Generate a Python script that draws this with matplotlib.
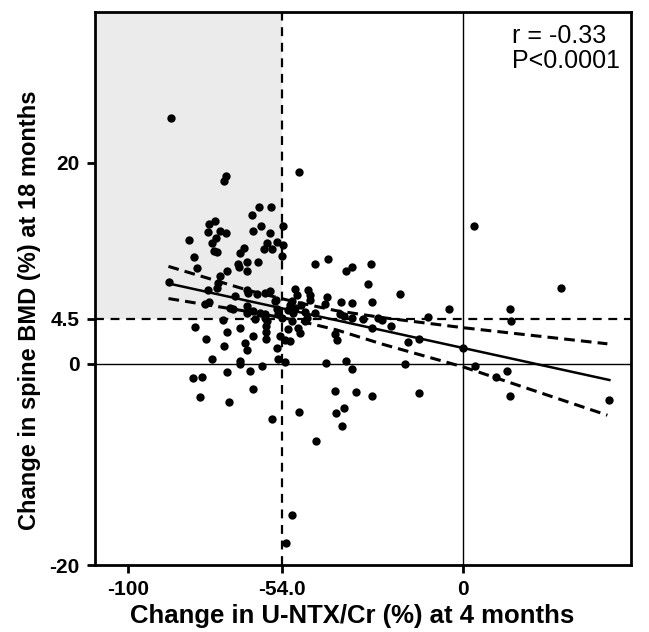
import numpy as np
import matplotlib
matplotlib.use("Agg")
import matplotlib.pyplot as plt

plt.rcParams['font.family'] = ['Liberation Sans', 'DejaVu Sans']

# change in U-NTX/Cr (%) at 4 months vs change in spine BMD (%) at 18 months
ntx = [-87.2, -70.7, -71.3, -49.0, -60.9, -57.3, -63.0, -74.0, -75.8, -60.3,
       -53.7, -76.1, -72.5, -70.7, -62.7, -57.6, -81.8, -73.7, -74.9, -58.5,
       -55.5, -53.7, -65.4, -66.6, -59.4, -57.0, -74.3, -73.4, -54.0, -80.3,
       -67.2, -66.9, -64.5, -61.2, -64.5, -79.4, -70.4, -72.5, -73.1, -73.4,
       -87.8, -76.1, -64.5, -64.2, -68.1, -61.5, -59.1, -57.6, -55.8, -75.8,
       -77.0, -69.6, -68.7, -64.5, -64.5, -62.7, -60.6, -59.1, -55.5, -55.2,
       -62.1, -59.1, -58.5, -71.6, -54.0, -56.1, -44.2, -40.3, -34.9, -33.1,
       -27.5, -28.4, -18.8, -50.1, -49.6, -46.3, -45.7, -45.7, -40.6, -41.2,
       -36.4, -33.1, -27.2, -51.0, -51.6, -48.4, -50.1, -52.2, -50.7, -47.2,
       -46.6, -47.2, -44.2, -36.7, -35.5, -33.1, -29.9, -25.4, -24.2, -21.5,
       -27.2, -52.2, -49.3, -48.7, -38.2, -37.6, -54.6, -53.1, -51.6, -55.5,
       -4.2, 14.0, 14.3, 29.3, -10.4, -16.4, -13.1, 0.0, -17.3, 3.6,
       9.9, 13.1, 14.0, 43.6, 3.3, -80.0, -70.4, -66.6, -62.7, -58.8,
       -58.8, -58.8, -76.7, -71.3, -65.1, -64.5, -74.9, -66.6, -66.6, -55.2,
       -53.1, -80.6, -77.9, -70.4, -63.6, -60.0, -62.7, -78.5, -69.9, -57.0,
       -40.9, -34.9, -33.1, -38.2, -31.9, -27.2, -49.0, -37.9, -35.5, -36.1,
       -43.9, -51.0, -52.8, -13.1, -51.0]
bmd = [24.5, 18.7, 18.2, 19.1, 15.6, 15.6, 14.8, 14.2, 13.9, 13.7,
       13.7, 13.1, 13.2, 13.0, 13.2, 13.0, 12.3, 12.5, 12.0, 12.0,
       12.1, 11.8, 11.5, 11.0, 11.4, 11.4, 11.2, 11.1, 10.7, 10.6,
       9.9, 9.6, 10.1, 10.1, 9.2, 9.5, 9.2, 8.7, 8.0, 7.6,
       8.1, 7.4, 7.4, 7.1, 6.8, 7.0, 7.1, 7.3, 6.4, 6.2,
       6.0, 5.6, 5.5, 5.8, 5.1, 5.3, 5.1, 5.0, 5.5, 5.0,
       4.5, 4.6, 4.3, 4.4, 4.6, 6.3, 9.9, 10.4, 9.2, 9.6,
       9.9, 7.9, 7.0, 7.5, 6.9, 7.4, 6.9, 6.4, 6.7, 6.0,
       6.2, 6.1, 6.2, 6.3, 5.9, 5.9, 5.6, 5.4, 5.1, 5.2,
       4.6, 4.3, 5.1, 5.0, 4.8, 4.6, 4.5, 4.6, 4.4, 3.8,
       3.6, 3.5, 3.6, 3.1, 3.0, 2.4, 2.8, 2.4, 2.3, 1.6,
       5.5, 5.5, 4.3, 7.6, 4.7, 2.2, 2.5, 1.6, 0.0, -0.2,
       -1.3, -0.7, -3.2, -3.6, 13.7, 3.7, 3.2, 3.6, 2.8, 3.8,
       3.2, 2.5, 2.5, 1.8, 2.1, 1.4, 0.5, 0.3, 0.0, 0.5,
       0.2, -1.4, -1.3, -0.8, -0.7, -0.2, -2.5, -3.3, -3.8, -5.5,
       0.1, 0.3, -0.5, -2.7, -2.8, -3.2, -4.8, -4.9, -4.4, -6.2,
       -7.7, -15.0, -17.8, -2.9, 4.3]

# regression line and 95% confidence band
fit_x = [-88, 43.6]
fit_y = [8.0, -1.6]
band_x = [-88, -64, -50, -38, -24, 0, 43]
band_upper = [9.7, 7.3, 6.15, 5.3, 4.6, 3.6, 2.0]
band_lower = [6.5, 5.2, 4.35, 3.4, 1.95, -0.3, -5.1]

cut_x = -54.0
cut_y = 4.5

fig = plt.figure(figsize=(6.49, 6.32), dpi=100)
ax = fig.add_axes([0.146, 0.106, 0.826, 0.875])
ax.set_xlim(-110, 50)
ax.set_ylim(-20, 35)

ax.fill_between([-110, cut_x], cut_y, 35, color='#ebebeb', lw=0, zorder=0)
ax.axvline(0, color='black', lw=1, zorder=1)
ax.axhline(0, color='black', lw=1, zorder=1)
ax.axvline(cut_x, color='black', lw=1.6, ls=(0, (4, 3)), zorder=2)
ax.axhline(cut_y, color='black', lw=1.6, ls=(0, (4, 3)), zorder=2)

ax.scatter(ntx, bmd, s=36, color='black', lw=0, zorder=3)
ax.plot(fit_x, fit_y, color='black', lw=1.8, zorder=4)
ax.plot(band_x, band_upper, color='black', lw=2.2, ls=(0, (3.5, 2)), zorder=4)
ax.plot(band_x, band_lower, color='black', lw=2.2, ls=(0, (3.5, 2)), zorder=4)

ax.text(0.778, 0.978, "r = -0.33\nP<0.0001", transform=ax.transAxes,
        ha='left', va='top', fontsize=18, linespacing=1.05)

ax.set_xticks([-100, cut_x, 0])
ax.set_xticklabels(['-100', '-54.0', '0'], fontsize=15, fontweight='bold')
ax.set_yticks([-20, 0, cut_y, 20])
ax.set_yticklabels(['-20', '0', '4.5', '20'], fontsize=15, fontweight='bold')
for s in ax.spines.values():
    s.set_linewidth(2)
ax.tick_params(width=2, length=6, pad=5)

ax.set_xlabel("Change in U-NTX/Cr (%) at 4 months", fontsize=18.5, fontweight='bold')
ax.set_ylabel("Change in spine BMD (%) at 18 months", fontsize=17, fontweight='bold')
ax.xaxis.set_label_coords(0.48, -0.07)
ax.yaxis.set_label_coords(-0.1, 0.461)

fig.savefig("out.png", dpi=100)
